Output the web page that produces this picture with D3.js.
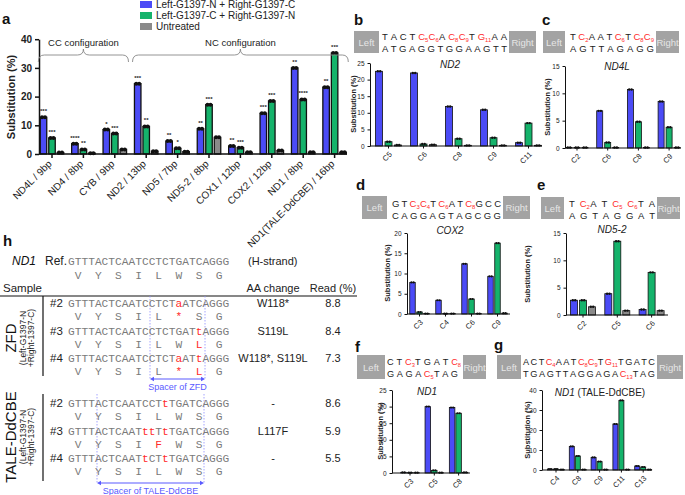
<!DOCTYPE html>
<html><head><meta charset="utf-8">
<script src="https://cdn.jsdelivr.net/npm/d3@7"></script>
<style>body{margin:0;background:#fff}svg{display:block;font-family:"Liberation Sans",Arial,sans-serif}</style>
</head><body><svg id="c" width="685" height="495"></svg>
<script>
// ---------------- DATA ----------------
const seriesNames = ["Left-G1397-N + Right-G1397-C", "Left-G1397-C + Right-G1397-N", "Untreated"];
const seriesColors = ["#4b4bf6", "#15b36b", "#8a8a8a"];

const aCategories = ["ND4L / 9bp","ND4 / 8bp","CYB / 9bp","ND2 / 13bp","ND5 / 7bp","ND5-2 / 8bp","COX1 / 12bp","COX2 / 12bp","ND1 / 8bp","ND1(TALE-DdCBE) / 16bp"];
const aBlue  = [12.8, 3.6, 8.5, 24.5, 4.5, 8.8, 2.8, 14.2, 30.0, 23.3];
const aGreen = [5.6, 1.6, 7.1, 9.6, 2.0, 17.2, 2.2, 18.5, 19.0, 35.2];
const aGrey  = [0.5, 0.3, 1.6, 1.0, 0.8, 5.8, 0.6, 1.2, 0.6, 0.6];
const aStarsBlue  = ["***","****","*","***","**","**","**","***","**","**"];
const aStarsGreen = ["***","**","***","**","*","***","***","***","****","***"];
const aTicks = [0, 10, 20, 30, 40];
const aGroups = [["CC configuration", 0, 2], ["NC configuration", 3, 9]];

const bCats = ["C5","C6","C8","C9","C11"];
const bBlue = [22.5, 22.0, 11.9, 10.9, 1.0];
const bGreen = [1.3, 0.6, 2.2, 2.5, 6.9];
const bGrey = [0.3, 0.4, 0.2, 0.2, 0.2];
const bTicks = [0, 5, 10, 15, 20, 25];

const cCats = ["C2","C6","C8","C9"];
const cBlue = [0.1, 6.8, 10.7, 8.5];
const cGreen = [0.1, 1.0, 4.8, 3.8];
const cGrey = [0.1, 0.1, 0.1, 0.1];
const cTicks = [0, 5, 10, 15];

const dCats = ["C3","C4","C6","C9"];
const dBlue = [7.8, 3.4, 12.4, 9.3];
const dGreen = [0.5, 0.1, 3.7, 17.5];
const dGrey = [0.1, 0.1, 0.1, 0.2];
const dTicks = [0, 5, 10, 15, 20];

const eCats = ["C2","C5","C6"];
const eBlue = [2.7, 3.9, 1.0];
const eGreen = [2.7, 13.5, 7.8];
const eGrey = [1.5, 0.8, 0.8];
const eTicks = [0, 5, 10, 15];

const fCats = ["C3","C5","C8"];
const fBlue = [0.2, 20.0, 19.7];
const fGreen = [0.1, 0.8, 18.0];
const fGrey = [0.1, 0.1, 0.2];
const fTicks = [0, 5, 10, 15, 20, 25];

const gCats = ["C4","C8","C9","C11","C13"];
const gBlue = [0.5, 11.8, 6.3, 23.0, 2.0];
const gGreen = [0.5, 7.0, 4.2, 34.8, 1.5];
const gGrey = [0.2, 0.2, 0.2, 0.2, 0.2];
const gTicks = [0, 10, 20, 30, 40];

// sequences: {Xn} = red base with subscript n
const bSeqTop = "T A C T {C5}{C6}A {C8}{C9}T {G11}A A";
const bSeqBot = "A T G A G G T G G A A G T T";
const cSeqTop = "T {C2}A A T {C6}T {C8}{C9}";
const cSeqBot = "A G T T A G A G G";
const dSeqTop = "G T {C3}{C4}T {C6}A T {C8}G C C";
const dSeqBot = "C A G G A G T A G C G G";
const eSeqTop = "T {C2}A T {C5} {C6}T A";
const eSeqBot = "A G T A G G A T";
const fSeqTop = "C T {C3}T G A T {C8}";
const fSeqBot = "G A G A {C5}T A G";
const gSeqTop = "A C T {C4}A A T {C8}{C9}T {G11}T G A T C";
const gSeqBot = "T G A G T T A G G A G A {C13}T A G";

// panel h
const refSeq = "GTTTACTCAATCCTCTGATCAGGG";
const refAA = ["V","Y","S","I","L","W","S","G"];
const sampleIds = ["#2","#3","#4"];
const zfdSeqs = ["GTTTACTCAATCCTCTaATCAGGG","GTTTACTCAATCCTCTGATtAGGG","GTTTACTCAATCCTCTaATtAGGG"];
const zfdAA = [["V","Y","S","I","L","*","S","G"],["V","Y","S","I","L","W","L","G"],["V","Y","S","I","L","*","L","G"]];
const zfdChange = ["W118*","S119L","W118*, S119L"];
const zfdRead = ["8.8","8.4","7.3"];
const taleSeqs = ["GTTTACTCAATCCTtTGATCAGGG","GTTTACTCAATttTtTGATCAGGG","GTTTACTCAATtCTtTGATCAGGG"];
const taleAA = [["V","Y","S","I","L","W","S","G"],["V","Y","S","I","F","W","S","G"],["V","Y","S","I","L","W","S","G"]];
const taleChange = ["-","L117F","-"];
const taleRead = ["8.6","5.9","5.5"];

// ---------------- DRAW ----------------
const svg = d3.select("#c");
svg.append("rect").attr("width",685).attr("height",495).attr("fill","#fff");
const RED = "#ff2b2b";

function drawBars(o) {
  const g = svg.append("g");
  const n = o.cats.length;
  const x = d3.scaleBand().domain(o.cats).range([o.c0 - o.step/2, o.c0 - o.step/2 + n*o.step]);
  const y = d3.scaleLinear().domain([0, o.yMax]).range([o.y0, o.yTop]);
  const p = 1 - o.bw/o.off;
  const sub = d3.scaleBand().domain([0,1,2]).range([-1.5*o.off, 1.5*o.off]).paddingInner(p).paddingOuter(p/2);
  const series = [o.blue, o.green, o.grey];
  series.forEach((vals, s) => {
    o.cats.forEach((c, i) => {
      const v = vals[i];
      const bx = x(c) + x.bandwidth()/2 + sub(s);
      g.append("rect").attr("x", bx).attr("y", y(v)).attr("width", sub.bandwidth())
        .attr("height", Math.max(0, o.y0 - y(v))).attr("fill", seriesColors[s])
        .attr("stroke", "#111").attr("stroke-width", o.sw);
      const cx = bx + sub.bandwidth()/2;
      [-o.dotDx, o.dotDx].forEach(dx => g.append("circle").attr("cx", cx + dx).attr("cy", y(v))
        .attr("r", o.dotR).attr("fill", "#111"));
      if (o.stars && s < 2) {
        const st = (s === 0 ? o.stars[0] : o.stars[1])[i];
        g.append("text").attr("x", cx).attr("y", y(v) - 4).attr("text-anchor","middle")
          .attr("font-size", 6).attr("font-weight","bold").attr("fill","#222").text(st);
      }
    });
  });
  const ya = g.append("g").attr("transform", `translate(${o.ax},0)`)
    .call(d3.axisLeft(y).tickValues(o.ticks).tickSize(o.tick).tickSizeOuter(0));
  ya.selectAll("path,line").attr("stroke","#111").attr("stroke-width", o.aw);
  ya.selectAll("text").attr("font-size", o.tf).attr("font-weight", o.tfw).attr("fill","#222")
    .attr("font-family", "Liberation Sans, Arial, sans-serif");
  const xa = g.append("g").attr("transform", `translate(0,${o.y0})`)
    .call(d3.axisBottom(x).tickSize(o.tick).tickSizeOuter(0).tickFormat(""));
  xa.select(".domain").remove();
  xa.selectAll("line").attr("stroke","#111").attr("stroke-width", o.aw);
  g.append("line").attr("x1", o.ax).attr("x2", o.xEnd).attr("y1", o.y0).attr("y2", o.y0)
    .attr("stroke","#111").attr("stroke-width", o.aw);
  o.cats.forEach(c => {
    const cx = x(c) + x.bandwidth()/2 + o.lx;
    g.append("text").attr("transform", `translate(${cx},${o.y0 + o.ly}) rotate(-45)`)
      .attr("text-anchor","end").attr("dy","0.35em").attr("font-size", o.lf).attr("fill","#222").text(c);
  });
  g.append("text").attr("transform", `translate(${o.ylx},${o.yly}) rotate(-90)`).attr("text-anchor","middle")
    .attr("font-size", o.ylf).attr("font-weight","bold").attr("fill","#222").text("Substitution (%)");
  if (o.title) {
    const t = g.append("text").attr("x", o.title[1]).attr("y", o.title[2]).attr("text-anchor","middle")
      .attr("font-size", 10).attr("fill","#222");
    t.append("tspan").attr("font-style","italic").text(o.title[0]);
    if (o.title[3]) t.append("tspan").text(o.title[3]);
  }
  return {x, y};
}

// lay out sequence tokens explicitly across [x0, x1]
function seqRowText(str, x0, x1, yb, fs) {
  const re = /\{([A-Z])(\d+)\}|([A-Z])|( )/g;
  const toks = []; let sp = false, m;
  while ((m = re.exec(str)) !== null) {
    if (m[4]) { sp = true; continue; }
    toks.push({base: m[1] || m[3], sub: m[2] || null, red: !!m[1], space: sp}); sp = false;
  }
  const els = toks.map(t => {
    const el = svg.append("text").attr("x", x0).attr("y", yb).attr("font-size", fs).attr("fill", t.red ? RED : "#222");
    el.append("tspan").text(t.base);
    if (t.sub) el.append("tspan").attr("font-size", fs*0.62).attr("dy", 2.4).text(t.sub);
    return el;
  });
  const widths = els.map(e => e.node().getComputedTextLength());
  const W = d3.sum(widths);
  const wts = toks.map((t, i) => i === 0 ? 0 : (t.space ? 1 : 0.1));
  const gap = (x1 - x0 - W) / d3.sum(wts);
  let cx = x0;
  els.forEach((e, i) => { cx += wts[i]*gap; e.attr("x", cx); cx += widths[i]; });
}

function seqBlock(o) {
  [[o.L, "Left"], [o.R, "Right"]].forEach(([b, lab]) => {
    svg.append("rect").attr("x", b[0]).attr("y", b[1]).attr("width", b[2]).attr("height", b[3]).attr("fill", "#a3a3a3");
    svg.append("text").attr("x", b[0] + b[2]/2).attr("y", b[1] + b[3]/2 + 3.5).attr("text-anchor","middle")
      .attr("font-size", 9.5).attr("fill", "#e6e6e6").text(lab);
  });
  seqRowText(o.top, o.x0, o.x1, o.yt, o.fs || 9.5);
  seqRowText(o.bot, o.x0, o.x1b || o.x1, o.yb, o.fs || 9.5);
}

[["a",2,24],["b",354,25],["c",542,25],["d",356,190],["e",537,190],["f",355,352],["g",494,350],["h",3,246]]
  .forEach(([l,x,y]) => svg.append("text").attr("x",x).attr("y",y).attr("font-size",15).attr("font-weight","bold").attr("fill","#111").text(l));

seriesNames.forEach((nm, i) => {
  const cy = 4.5 + i*11;
  svg.append("rect").attr("x",140).attr("y",cy-3.5).attr("width",12).attr("height",7).attr("fill",seriesColors[i]);
  svg.append("text").attr("x",156).attr("y",cy+3.5).attr("font-size",10).attr("fill","#222").text(nm);
});

const A = drawBars({cats:aCategories, blue:aBlue, green:aGreen, grey:aGrey, stars:[aStarsBlue,aStarsGreen],
  ax:39, xEnd:347, c0:52, step:31.4, off:8.5, bw:6.5, y0:154, yTop:154-40*2.87, yMax:40, ticks:aTicks,
  tick:4, aw:1.5, sw:1.3, tf:10, tfw:"bold", lf:10, lx:-2, ly:8, ylx:15, yly:97, ylf:11, dotDx:1.5, dotR:2});
function brace(x1, x2, yb, label) {
  const xm = (x1 + x2)/2;
  svg.append("path").attr("d", `M${x1},${yb+7} Q${x1},${yb} ${x1+6},${yb} L${xm-6},${yb} Q${xm},${yb} ${xm},${yb-6} Q${xm},${yb} ${xm+6},${yb} L${x2-6},${yb} Q${x2},${yb} ${x2},${yb+7}`)
    .attr("fill","none").attr("stroke","#888").attr("stroke-width",0.9);
  svg.append("text").attr("x", xm).attr("y", yb-9).attr("text-anchor","middle").attr("font-size",9.5).attr("fill","#222").text(label);
}
aGroups.forEach(([lab, i0, i1]) => {
  const xl = A.x(aCategories[i0]) + 2, xr = A.x(aCategories[i1]) + A.x.bandwidth() - 2;
  brace(xl, xr, 55, lab);
});

seqBlock({L:[354,31,25,22], R:[509,31,27,22], top:bSeqTop, bot:bSeqBot, x0:382, x1:507, yt:40, yb:52});
drawBars({cats:bCats, blue:bBlue, green:bGreen, grey:bGrey, ax:370, xEnd:542, c0:388.5, step:35, off:9.5, bw:7,
  y0:146, yTop:63, yMax:25, ticks:bTicks, tick:2.5, aw:1, sw:0.8, tf:6.5, tfw:"normal", lf:7.5, lx:2, ly:7,
  ylx:356, yly:104, ylf:7.5, dotDx:1.2, dotR:1.2, title:["ND2",450,68]});
seqBlock({L:[543,31,22,22], R:[656,31,23,22], top:cSeqTop, bot:cSeqBot, x0:570, x1:654, yt:40, yb:52});
drawBars({cats:cCats, blue:cBlue, green:cGreen, grey:cGrey, ax:565, xEnd:681, c0:577, step:30.7, off:8, bw:6,
  y0:148, yTop:66, yMax:15, ticks:cTicks, tick:2.5, aw:1, sw:0.8, tf:6.5, tfw:"normal", lf:7.5, lx:2, ly:7,
  ylx:550, yly:107, ylf:7.5, dotDx:1.2, dotR:1.2, title:["ND4L",617,70]});
seqBlock({L:[362,196,25,23], R:[503,196,27,23], top:dSeqTop, bot:dSeqBot, x0:392, x1:501, yt:207, yb:219});
drawBars({cats:dCats, blue:dBlue, green:dGreen, grey:dGrey, ax:407, xEnd:510, c0:419.5, step:26, off:7, bw:5.5,
  y0:314, yTop:233, yMax:20, ticks:dTicks, tick:2.5, aw:1, sw:0.8, tf:6.5, tfw:"normal", lf:7.5, lx:2, ly:7,
  ylx:390, yly:273, ylf:7.5, dotDx:1.1, dotR:1.1, title:["COX2",450,234]});
seqBlock({L:[541,197,23,22], R:[657,197,23,22], top:eSeqTop, bot:eSeqBot, x0:569, x1:655, yt:207, yb:219});
drawBars({cats:eCats, blue:eBlue, green:eGreen, grey:eGrey, ax:566, xEnd:668, c0:583, step:34.3, off:9, bw:7,
  y0:315, yTop:233, yMax:15, ticks:eTicks, tick:2.5, aw:1, sw:0.8, tf:6.5, tfw:"normal", lf:7.5, lx:2, ly:7,
  ylx:530, yly:274, ylf:7.5, dotDx:1.2, dotR:1.2, title:["ND5-2",612,233]});
seqBlock({L:[357,355,28,24], R:[463,355,23,24], top:fSeqTop, bot:fSeqBot, x0:387, x1:461, x1b:458, yt:365, yb:377, fs:9.2});
drawBars({cats:fCats, blue:fBlue, green:fGreen, grey:fGrey, ax:392, xEnd:470, c0:410, step:24.3, off:6.5, bw:5.5,
  y0:473, yTop:390, yMax:25, ticks:fTicks, tick:2.5, aw:1, sw:0.8, tf:6.5, tfw:"normal", lf:7.5, lx:2, ly:7,
  ylx:383, yly:431, ylf:7.5, dotDx:1.1, dotR:1.1, title:["ND1",427,395]});
seqBlock({L:[497,355,24,24], R:[657,355,26,24], top:gSeqTop, bot:gSeqBot, x0:523, x1:655, yt:365, yb:377, fs:9.2});
drawBars({cats:gCats, blue:gBlue, green:gGreen, grey:gGrey, ax:542, xEnd:652, c0:556, step:21.8, off:6, bw:5,
  y0:470, yTop:390, yMax:40, ticks:gTicks, tick:2.5, aw:1, sw:0.8, tf:6.5, tfw:"normal", lf:7.5, lx:2, ly:7,
  ylx:530, yly:430, ylf:7.5, dotDx:1.0, dotR:1.1, title:["ND1",600,396," (TALE-DdCBE)"]});

// ---------------- panel h ----------------
const cw = 6.72, seqX = 68, MONO = "Liberation Mono, Courier New, monospace", SEQC = "#7a7a7a";
function monoSeq(str, yb) {
  const t = svg.append("text").attr("x", seqX).attr("y", yb).attr("font-family", MONO).attr("font-size", 11.2);
  str.split("").forEach(ch => t.append("tspan").attr("fill", ch === ch.toLowerCase() ? RED : SEQC).text(ch));
}
function monoAA(arr, yb) {
  arr.forEach((a, k) => svg.append("text").attr("x", seqX + (3*k + 1.5)*cw).attr("y", yb).attr("text-anchor","middle")
    .attr("font-family", MONO).attr("font-size", 11.2).attr("fill", a !== refAA[k] ? RED : SEQC).text(a));
}
svg.append("text").attr("x",12).attr("y",265).attr("font-size",12).attr("font-style","italic").attr("fill","#111").text("ND1");
svg.append("text").attr("x",45).attr("y",265).attr("font-size",12).attr("fill","#222").text("Ref.");
monoSeq(refSeq, 265);
monoAA(refAA, 279);
svg.append("text").attr("x",248).attr("y",265).attr("font-size",11).attr("fill","#222").text("(H-strand)");
svg.append("text").attr("x",3).attr("y",292).attr("font-size",11.5).attr("fill","#222").text("Sample");
svg.append("text").attr("x",273).attr("y",292).attr("text-anchor","middle").attr("font-size",11).attr("fill","#222").text("AA change");
svg.append("text").attr("x",333).attr("y",292).attr("text-anchor","middle").attr("font-size",11).attr("fill","#222").text("Read (%)");
svg.append("line").attr("x1",0).attr("x2",357).attr("y1",296).attr("y2",296).attr("stroke","#111").attr("stroke-width",1.2);

function sampleGroup(seqs, aas, changes, reads, ys, vline, spacer, name, sub1, sub2, cy) {
  svg.append("line").attr("x1",43).attr("x2",43).attr("y1",vline[0]).attr("y2",vline[1]).attr("stroke","#111").attr("stroke-width",1.2);
  spacer.xs.forEach(xx => svg.append("line").attr("x1",xx).attr("x2",xx).attr("y1",spacer.y0).attr("y2",spacer.y1)
    .attr("stroke","#8d8dff").attr("stroke-width",0.8).attr("stroke-dasharray","1.5,1.5"));
  seqs.forEach((s, i) => {
    svg.append("text").attr("x",50).attr("y",ys[i]).attr("font-size",11.5).attr("fill","#222").text(sampleIds[i]);
    monoSeq(s, ys[i]);
    monoAA(aas[i], ys[i] + 13);
    svg.append("text").attr("x",273).attr("y",ys[i]).attr("text-anchor","middle").attr("font-size",11).attr("fill","#222").text(changes[i]);
    svg.append("text").attr("x",333).attr("y",ys[i]).attr("text-anchor","middle").attr("font-size",11).attr("fill","#222").text(reads[i]);
  });
  const [xa, xb] = spacer.xs, ya = spacer.ay;
  svg.append("line").attr("x1",xa+3).attr("x2",xb-3).attr("y1",ya).attr("y2",ya).attr("stroke","#5a5aff").attr("stroke-width",1.2);
  svg.append("path").attr("d",`M${xa},${ya} l4,-2.2 v4.4 z M${xb},${ya} l-4,-2.2 v4.4 z`).attr("fill","#5a5aff");
  svg.append("text").attr("x",(xa+xb)/2).attr("y",ya+11).attr("text-anchor","middle").attr("font-size",9).attr("fill","#5a5aff").text(spacer.label);
  svg.append("text").attr("transform",`translate(16,${cy}) rotate(-90)`).attr("text-anchor","middle").attr("font-size",15).attr("fill","#111").text(name);
  svg.append("text").attr("transform",`translate(26,${cy}) rotate(-90)`).attr("text-anchor","middle").attr("font-size",8.5).attr("fill","#222").text(sub1);
  svg.append("text").attr("transform",`translate(34,${cy}) rotate(-90)`).attr("text-anchor","middle").attr("font-size",8.5).attr("fill","#222").text(sub2);
}
sampleGroup(zfdSeqs, zfdAA, zfdChange, zfdRead, [307,335,362], [296,376],
  {xs:[150,205], y0:296, y1:379, ay:379, label:"Spacer of ZFD"}, "ZFD", "(Left-G1397-N", "+Right-1397-C)", 338);
sampleGroup(taleSeqs, taleAA, taleChange, taleRead, [407,435,462], [394,481],
  {xs:[97,204], y0:394, y1:483, ay:483, label:"Spacer of TALE-DdCBE"}, "TALE-DdCBE", "(Left-G1397-N", "+Right-1397-C)", 437);
</script></body></html>
